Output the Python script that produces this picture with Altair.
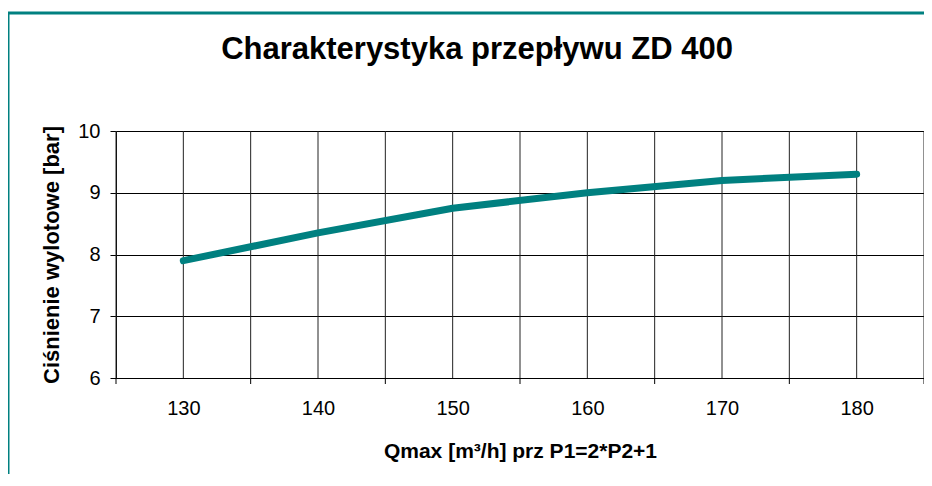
import altair as alt
import pandas as pd

# data
q_values = [130, 140, 150, 160, 170, 180]
p_values = [7.9, 8.35, 8.75, 9.0, 9.2, 9.3]
x_grid = [125, 130, 135, 140, 145, 150, 155, 160, 165, 170, 175, 180, 185]
x_ticks = [125, 135, 145, 155, 165, 175, 185]
x_labels = [130, 140, 150, 160, 170, 180]
y_ticks = [6, 7, 8, 9, 10]

TITLE = "Charakterystyka przepływu ZD 400"
Y_TITLE = "Ciśnienie wylotowe [bar]"
X_TITLE = "Qmax [m³/h] prz P1=2*P2+1"

W, H = 808, 247
FONT = "Liberation Sans"
TEAL = "#008080"

line_df = pd.DataFrame({"q": q_values, "p": p_values})
grid_df = pd.DataFrame({"g": x_grid})
tick_df = pd.DataFrame({"t": x_ticks})

xscale = alt.Scale(domain=[125, 185], nice=False, zero=False)
yscale = alt.Scale(domain=[6, 10], nice=False, zero=False)

vgrid = alt.Chart(grid_df).mark_rule(color="#222222", strokeWidth=1).encode(
    x=alt.X("g:Q", scale=xscale,
            axis=alt.Axis(values=x_labels, ticks=False, grid=False, domain=True,
                          domainColor="#000000", labelFont=FONT, labelFontSize=20,
                          labelColor="#000000", labelPadding=20, format="d",
                          title=X_TITLE, titleFont=FONT, titleFontSize=21,
                          titleFontWeight="bold", titleColor="#000000",
                          titlePadding=22))
)

xt = alt.Chart(tick_df).mark_rule(color="#000000", strokeWidth=1).encode(
    x=alt.X("t:Q", scale=xscale),
    y=alt.value(H),
    y2=alt.value(H + 6),
)

line = alt.Chart(line_df).mark_line(color=TEAL, strokeWidth=7, strokeCap="round",
                                    strokeJoin="round").encode(
    x=alt.X("q:Q", scale=xscale),
    y=alt.Y("p:Q", scale=yscale,
            axis=alt.Axis(values=y_ticks, grid=True, gridColor="#000000", gridOpacity=1,
                          ticks=True, tickSize=6, tickColor="#000000",
                          domain=True, domainColor="#000000",
                          labelFont=FONT, labelFontSize=20, labelColor="#000000",
                          labelPadding=10, format="d",
                          title=Y_TITLE, titleFont=FONT, titleFontSize=22,
                          titleFontWeight="bold", titleColor="#000000",
                          titlePadding=14)),
)

frame_left = alt.Chart(alt.Data(values=[{}])).mark_rule(color=TEAL, strokeWidth=3).encode(
    x=alt.value(-108), y=alt.value(-118), y2=alt.value(H + 300)
)
frame_top = alt.Chart(alt.Data(values=[{}])).mark_rule(color=TEAL, strokeWidth=3).encode(
    x=alt.value(-110), x2=alt.value(W + 300), y=alt.value(-118)
)

title = alt.Chart(alt.Data(values=[{}])).mark_text(
    text=TITLE, font=FONT, fontSize=31, fontWeight="bold", color="#000000",
    align="center", baseline="alphabetic"
).encode(x=alt.value(361), y=alt.value(-72))

chart = alt.layer(vgrid, xt, line, frame_left, frame_top, title).properties(
    width=W, height=H,
    autosize=alt.AutoSizeParams(type="none"),
    padding={"left": 108, "top": 123, "right": 0, "bottom": 96},
).configure_view(stroke="#808080", strokeWidth=1).configure(background="white")

chart.save("out.html", embed_options={"renderer": "svg", "actions": False})
